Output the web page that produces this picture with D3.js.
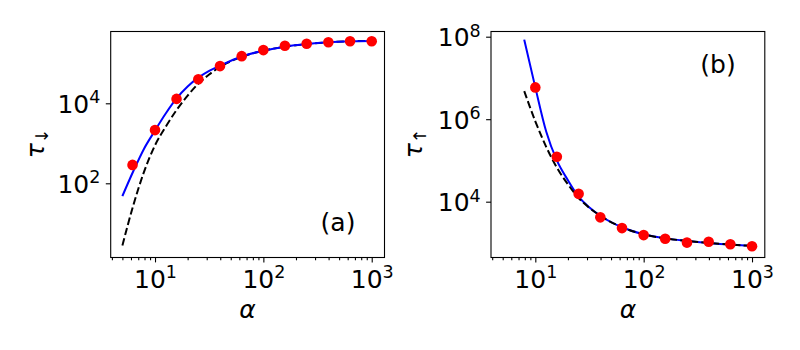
<!DOCTYPE html>
<html lang="en">
<head>
<meta charset="utf-8">
<script src="https://cdn.jsdelivr.net/npm/d3@7"></script>
<style>
  body { margin: 0; background: #fff; }
  svg { display: block; }
  text { font-family: "DejaVu Sans", sans-serif; fill: #000; }
</style>
</head>
<body>
<svg width="800" height="350"></svg>
<script>
// ---- panel (a): tau_down vs alpha ----
const alphaDotsA = [6.2, 10, 15.8, 25.1, 39.8, 63.1, 100, 158, 251, 398, 631, 1000];
const tauDownDots = [288, 2140, 12900, 39800, 85100, 151000, 214000, 275000, 309000, 335000, 355000, 355000];
const alphaLineA = [5, 6.3, 7.9, 10, 12.6, 15.8, 20, 25.1, 31.6, 39.8, 63.1, 100, 158, 251, 398, 631, 1000];
const tauDownFit = [48, 200, 724, 2090, 5620, 13200, 26300, 43700, 64600, 87100, 148000, 207000, 260000, 302000, 335000, 355000, 363000];
const tauDownApprox = [2.8, 28, 191, 891, 2630, 6760, 15500, 30900, 52500, 81300, 145000, 207000, 260000, 302000, 335000, 355000, 363000];

// ---- panel (b): tau_up vs alpha ----
const alphaDotsB = [10, 15.8, 25.1, 39.8, 63.1, 100, 158, 251, 398, 631, 1000];
const tauUpDots = [5.9e6, 123000, 15500, 4170, 2290, 1550, 1260, 1020, 1070, 933, 832];
const alphaLineB = [7.9, 10, 12.6, 15.8, 20, 25.1, 31.6, 39.8, 63.1, 100, 158, 251, 398, 631, 1000];
const tauUpFit = [8.5e7, 5.9e6, 501000, 100000, 33100, 13200, 7240, 4570, 2400, 1620, 1290, 1120, 1000, 912, 851];
const tauUpApprox = [4.8e6, 891000, 214000, 67600, 26300, 12300, 7080, 4570, 2400, 1620, 1290, 1120, 1000, 912, 851];

// ---- ticks ----
const xTicks = [10, 100, 1000];
const yTicksA = [1e2, 1e4];
const yTicksB = [1e4, 1e6, 1e8];

const svg = d3.select('svg');
const W = 273.8, H = 226;
const xDomain = [Math.pow(10, 0.591), Math.pow(10, 3.118)];

// minor ticks 2..9 per decade inside the x domain
const xMinor = [];
[1, 10, 100].forEach(dec => { for (let m = 2; m <= 9; m++) { const v = m * dec; if (v >= xDomain[0] && v <= xDomain[1]) xMinor.push(v); } });

function powLabel(sel, raise) {
    sel.each(function (d) {
        const t = d3.select(this);
        t.text(null);
        t.append('tspan').text('10');
        t.append('tspan').attr('font-size', 17.5).attr('dy', -raise).text(Math.round(Math.log10(d)));
    });
}

function panel(cfg) {
    const g = svg.append('g').attr('transform', `translate(${cfg.left},${cfg.top})`);
    const x = d3.scaleLog().domain(xDomain).range([0, W]);
    const y = d3.scaleLog().domain(cfg.yDomain).range([H, 0]);

    // x axis: minor + major
    const xMin = g.append('g').attr('transform', `translate(0,${H})`)
        .call(d3.axisBottom(x).tickValues(xMinor).tickSize(2.8).tickSizeOuter(0).tickFormat(''));
    const xMaj = g.append('g').attr('transform', `translate(0,${H})`)
        .call(d3.axisBottom(x).tickValues(xTicks).tickSize(4.9).tickSizeOuter(0));
    xMaj.selectAll('text').attr('y', 30.2).attr('dy', 0).attr('font-size', 25).call(powLabel, 10);

    const yAx = g.append('g')
        .call(d3.axisLeft(y).tickValues(cfg.yTicks).tickSize(4.9).tickSizeOuter(0));
    yAx.selectAll('text').attr('x', -10.3).attr('dy', 0).attr('y', 9).attr('font-size', 25).call(powLabel, 9.5);

    [xMin, xMaj, yAx].forEach(a => {
        a.select('.domain').remove();
        a.selectAll('line').attr('stroke', '#000').attr('stroke-width', 1.1);
        a.attr('font-family', null);
    });

    const line = d3.line().x(d => x(d[0])).y(d => y(d[1])).curve(d3.curveMonotoneX);
    cfg.lines.forEach(l => {
        g.append('path')
            .datum(d3.zip(l.xs, l.ys))
            .attr('fill', 'none')
            .attr('stroke', l.color)
            .attr('stroke-width', 2)
            .attr('stroke-dasharray', l.dash || null)
            .attr('d', line);
    });

    g.selectAll('circle.dot')
        .data(d3.zip(cfg.dotX, cfg.dotY))
        .join('circle')
        .attr('class', 'dot')
        .attr('cx', d => x(d[0]))
        .attr('cy', d => y(d[1]))
        .attr('r', 5.3)
        .attr('fill', '#ff0000');

    g.append('rect').attr('width', W).attr('height', H)
        .attr('fill', 'none').attr('stroke', '#000').attr('stroke-width', 1.1);

    // axis labels
    g.append('text')
        .attr('x', W / 2).attr('y', H + 60.5)
        .attr('text-anchor', 'middle')
        .attr('font-size', 25).attr('font-style', 'italic')
        .text('α');

    const yl = g.append('text')
        .attr('transform', `translate(${cfg.yLabelX},${H / 2 - 1}) rotate(-90)`)
        .attr('text-anchor', 'middle')
        .attr('font-size', 25);
    yl.append('tspan').attr('font-style', 'italic').text('τ');
    yl.append('tspan').attr('font-size', 17.5).attr('dy', 4).text(cfg.arrow);

    g.append('text')
        .attr('x', cfg.tag[0]).attr('y', cfg.tag[1])
        .attr('text-anchor', 'middle')
        .attr('font-size', 25)
        .text(cfg.tagText);
}

panel({
    left: 110.7, top: 31.5,
    yDomain: [Math.pow(10, 0.145), Math.pow(10, 5.795)],
    yTicks: yTicksA,
    lines: [
        { xs: alphaLineA, ys: tauDownApprox, color: '#000', dash: '7.4,3.2' },
        { xs: alphaLineA, ys: tauDownFit, color: '#0000ff' }
    ],
    dotX: alphaDotsA, dotY: tauDownDots,
    yLabelX: -66.7, arrow: '↓',
    tag: [227.3, 199.5], tagText: '(a)'
});

panel({
    left: 491, top: 31.5,
    yDomain: [Math.pow(10, 2.647), Math.pow(10, 8.126)],
    yTicks: yTicksB,
    lines: [
        { xs: alphaLineB, ys: tauUpFit, color: '#0000ff' },
        { xs: alphaLineB, ys: tauUpApprox, color: '#000', dash: '7.4,3.2' }
    ],
    dotX: alphaDotsB, dotY: tauUpDots,
    yLabelX: -69, arrow: '↑',
    tag: [227, 41.2], tagText: '(b)'
});
</script>
</body>
</html>
